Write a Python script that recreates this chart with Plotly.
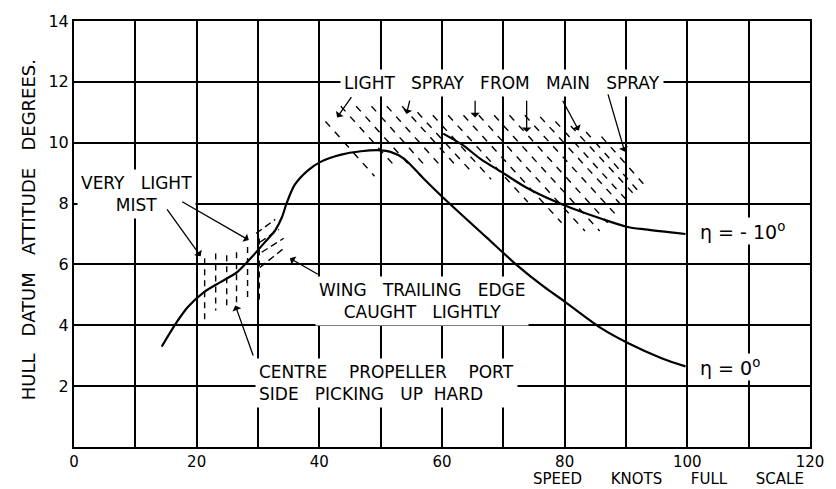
import plotly.graph_objects as go

# ---------------- data ----------------
eta0_speed = [14.3, 16.8, 18.6, 21.2, 23.8, 26.5, 28.1, 29.6, 31.2, 32.8, 33.9, 34.7,
              36.0, 38.2, 40.2, 43.4, 46.8, 50.0, 51.6, 53.8, 56.9, 59.9, 67.3,
              72.2, 76.6, 80.0, 86.0, 90.3, 95.8, 99.7]
eta0_attitude = [3.3, 4.12, 4.61, 5.09, 5.41, 5.73, 6.05, 6.38, 6.75, 7.12, 7.55, 8.03,
                 8.62, 9.1, 9.37, 9.6, 9.72, 9.75, 9.7, 9.48, 8.84, 8.25, 6.88,
                 5.98, 5.27, 4.78, 3.9, 3.42, 2.92, 2.65]

eta10_speed = [60.2, 63.4, 66.2, 70.0, 73.8, 78.2, 81.5, 86.0, 90.3, 93.1, 99.7]
eta10_attitude = [10.3, 9.92, 9.48, 9.0, 8.52, 8.09, 7.82, 7.5, 7.23, 7.15, 7.0]

# "very light mist" vertical dashed hatching
mist_x = [21.3, 23.1, 24.9, 26.5, 28.3, 30.2]
mist_top = [6.2, 6.36, 6.3, 6.4, 6.57, 6.85]
mist_bottom = [4.0, 4.49, 4.5, 4.5, 4.78, 4.78]

# "light spray from main spray" diagonal dashed hatching (start / end of each row)
spray_x0 = [41.0, 43.5, 46.0, 48.5, 51.0, 53.5, 56.0, 58.5, 61.0, 63.5, 66.0, 68.5,
            71.0, 73.5, 76.0, 78.5, 81.0, 83.5, 86.0]
spray_y0 = [10.7, 11.2, 11.2, 11.2, 11.2, 11.2, 11.0, 10.9, 10.9, 10.9, 10.9, 10.9,
            10.9, 10.9, 10.85, 10.7, 10.55, 10.35, 10.2]
spray_x1 = [49.0, 52.0, 54.5, 57.0, 59.5, 62.5, 65.0, 68.0, 74.0, 79.5, 83.3, 85.7,
            87.0, 88.5, 89.7, 90.6, 91.8, 92.5, 93.5]
spray_y1 = [8.9, 9.3, 9.3, 9.3, 9.3, 9.2, 9.0, 8.8, 8.05, 7.37, 7.1, 7.1,
            7.37, 7.6, 7.85, 8.0, 8.2, 8.3, 8.5]

# "wing trailing edge caught lightly" hatching
wing_x0 = [29.7, 30.3, 30.6, 30.3]
wing_y0 = [7.02, 6.73, 6.4, 5.9]
wing_x1 = [32.8, 33.4, 34.2, 34.4]
wing_y1 = [7.48, 7.15, 6.86, 6.56]

x_tick_vals = [0, 20, 40, 60, 80, 100, 120]
x_tick_text = ['0', '20', '40', '60', '80', '100', '120']
x_minor_vals = [10, 30, 50, 70, 90, 110]
y_tick_vals = [2, 4, 6, 8, 10, 12, 14]
y_tick_text = ['2', '4', '6', '8', '10', '12', '14']

FONT = 'DejaVu Sans'
NB = '\u00a0'


def segs(x0, y0, x1, y1):
    xs, ys = [], []
    for a, b, c, d in zip(x0, y0, x1, y1):
        xs += [a, c, None]
        ys += [b, d, None]
    return xs, ys


fig = go.Figure()

# hatching
sx, sy = segs(spray_x0, spray_y0, spray_x1, spray_y1)
fig.add_trace(go.Scatter(x=sx, y=sy, mode='lines',
                         line=dict(color='black', width=1.4, dash='7px,7px'),
                         hoverinfo='skip', showlegend=False))
mx, my = segs(mist_x, mist_top, mist_x, mist_bottom)
fig.add_trace(go.Scatter(x=mx, y=my, mode='lines',
                         line=dict(color='black', width=1.4, dash='6px,5px'),
                         hoverinfo='skip', showlegend=False))
wx, wy = segs(wing_x0, wing_y0, wing_x1, wing_y1)
fig.add_trace(go.Scatter(x=wx, y=wy, mode='lines',
                         line=dict(color='black', width=1.4, dash='7px,4px'),
                         hoverinfo='skip', showlegend=False))

# curves
fig.add_trace(go.Scatter(x=eta0_speed, y=eta0_attitude, mode='lines',
                         line=dict(color='black', width=2.2, shape='spline', smoothing=0.8),
                         showlegend=False))
fig.add_trace(go.Scatter(x=eta10_speed, y=eta10_attitude, mode='lines',
                         line=dict(color='black', width=2.2, shape='spline', smoothing=0.8),
                         showlegend=False))

txt = dict(family=FONT, size=17, color='black')
sp3 = NB * 3
sp4 = NB * 4

annos = []
# text labels (white background breaks the grid like the drawing)
annos.append(dict(x=10.2, y=8.33, xref='x', yref='y', showarrow=False,
                  text='VERY' + sp3 + 'LIGHT<br>MIST', align='center',
                  font=txt, bgcolor='white', borderpad=3))
annos.append(dict(x=56.8, y=4.8, xref='x', yref='y', showarrow=False,
                  text='WING' + sp3 + 'TRAILING' + sp3 + 'EDGE<br>CAUGHT' + sp3 + 'LIGHTLY',
                  align='center', font=txt, bgcolor='white', borderpad=3))
annos.append(dict(x=29.5, y=2.1, xref='x', yref='y', showarrow=False, xanchor='left',
                  text='CENTRE' + sp4 + 'PROPELLER' + sp4 + 'PORT<br>SIDE' + sp3 + 'PICKING' + sp3 + 'UP' + NB * 2 + 'HARD',
                  align='left', font=txt, bgcolor='white', borderpad=3))
annos.append(dict(x=69.75, y=11.97, xref='x', yref='y', showarrow=False,
                  text='LIGHT' + sp3 + 'SPRAY' + sp3 + 'FROM' + sp3 + 'MAIN' + sp3 + 'SPRAY',
                  font=txt, bgcolor='white', borderpad=3))
annos.append(dict(x=101.7, y=7.1, xref='x', yref='y', showarrow=False, xanchor='left',
                  text='η = - 10<sup>o</sup>', font=dict(family=FONT, size=19, color='black'),
                  bgcolor='white'))
annos.append(dict(x=101.8, y=2.64, xref='x', yref='y', showarrow=False, xanchor='left',
                  text='η = 0<sup>o</sup>', font=dict(family=FONT, size=19, color='black'),
                  bgcolor='white'))

# arrows (head x,y ; tail ax,ay)
arrows = [
    (20.65, 6.27, 15.0, 7.86),
    (28.5, 6.8, 17.4, 8.09),
    (35.2, 6.2, 40.0, 5.65),
    (26.3, 4.65, 29.3, 2.96),
    (42.9, 10.83, 45.4, 11.55),
    (54.2, 10.94, 54.8, 11.43),
    (65.4, 10.83, 65.4, 11.43),
    (73.8, 10.35, 73.8, 11.43),
    (82.3, 10.4, 79.55, 11.43),
    (89.8, 9.7, 87.0, 11.64),
]
for hx, hy, tx, ty in arrows:
    annos.append(dict(x=hx, y=hy, ax=tx, ay=ty, xref='x', yref='y', axref='x', ayref='y',
                      text='', showarrow=True, arrowhead=1, arrowsize=1.2,
                      arrowwidth=1.3, arrowcolor='black'))

# axis titles
annos.append(dict(x=-0.0623, y=0.509, xref='paper', yref='paper', showarrow=False,
                  textangle=-90, xanchor='center', yanchor='middle',
                  text='HULL' + sp3 + 'DATUM' + sp3 + 'ATTITUDE' + sp3 + 'DEGREES.',
                  font=dict(family=FONT, size=18, color='black')))
annos.append(dict(x=0.995, y=-0.1005, xref='paper', yref='paper', showarrow=False,
                  xanchor='right', yanchor='bottom',
                  text=(NB * 6).join(['SPEED', 'KNOTS', 'FULL', 'SCALE']),
                  font=dict(family=FONT, size=15, color='black')))

fig.update_layout(
    width=836, height=489,
    margin=dict(l=74, r=24, t=19, b=42),
    paper_bgcolor='white', plot_bgcolor='white',
    annotations=annos,
    showlegend=False,
)
fig.update_xaxes(range=[0, 120], tickvals=x_tick_vals, ticktext=x_tick_text,
                 showgrid=True, gridcolor='black', gridwidth=1.5,
                 minor=dict(tickvals=x_minor_vals, showgrid=True, gridcolor='black',
                            gridwidth=1.5, ticks=''),
                 showline=True, linecolor='black', linewidth=2, mirror=True,
                 ticks='', zeroline=False, ticklabelstandoff=0,
                 tickfont=dict(family=FONT, size=15, color='black'))
fig.update_yaxes(range=[0, 14], tickvals=y_tick_vals, ticktext=y_tick_text,
                 showgrid=True, gridcolor='black', gridwidth=1.5,
                 showline=True, linecolor='black', linewidth=2, mirror=True,
                 ticks='', zeroline=False,
                 tickfont=dict(family=FONT, size=16, color='black'))

fig.write_html('out.html')
